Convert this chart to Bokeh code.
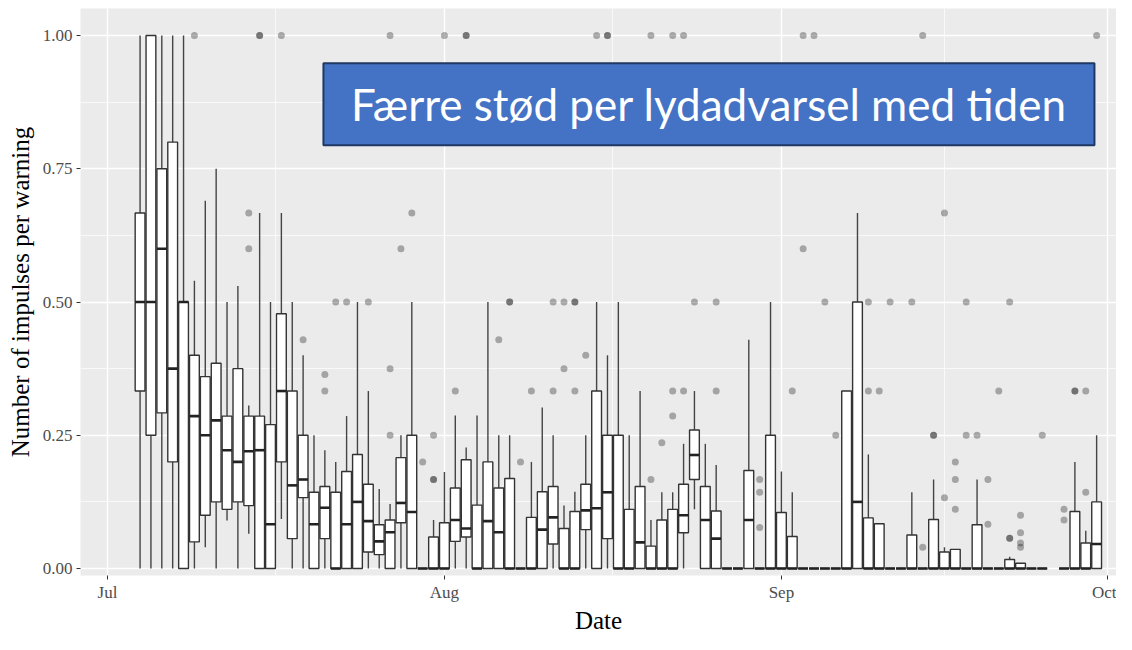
import pandas as pd
from bokeh.plotting import figure
from bokeh.models import (ColumnDataSource, FixedTicker, BoxAnnotation, Label, Range1d,
                          NumeralTickFormatter, DatetimeTickFormatter)
from bokeh.embed import file_html
from bokeh.resources import INLINE

YEAR = "2019"

box_days = [
    "07-04", "07-05", "07-06", "07-07", "07-08", "07-09", "07-10", "07-11", "07-12", "07-13",
    "07-14", "07-15", "07-16", "07-17", "07-18", "07-19", "07-20", "07-21", "07-22", "07-23",
    "07-24", "07-25", "07-26", "07-27", "07-28", "07-29", "07-30", "07-31",
    "08-01", "08-02", "08-03", "08-04", "08-05", "08-06", "08-07", "08-08", "08-09", "08-10",
    "08-11", "08-12", "08-13", "08-14", "08-15", "08-16", "08-17", "08-18", "08-19", "08-20",
    "08-21", "08-22", "08-23", "08-24", "08-25", "08-26", "08-27", "08-28", "08-29", "08-30",
    "08-31",
    "09-01", "09-02", "09-03", "09-04", "09-05", "09-06", "09-07", "09-08", "09-09", "09-10",
    "09-11", "09-12", "09-13", "09-14", "09-15", "09-16", "09-17", "09-18", "09-19", "09-20",
    "09-21", "09-22", "09-23", "09-24", "09-25", "09-27", "09-28", "09-29", "09-30",
]

lower = [
    0, 0, 0, 0, 0, 0, .04, 0, .09, 0,
    .065, 0, 0, .093, 0, 0, 0, 0, 0, 0,
    0, 0, 0, 0, 0, 0, 0, 0,
    0, 0, 0, 0, 0, 0, 0, 0, 0, 0,
    0, 0, 0, 0, 0, 0, 0, 0, 0, 0,
    0, 0, 0, .111, 0, 0, 0, 0, 0, 0,
    0,
    0, 0, 0, 0, 0, 0, 0, 0, 0, 0,
    0, 0, 0, 0, 0, 0, 0, 0, 0, 0,
    0, 0, 0, 0, 0, 0, 0, 0, 0,
]
q1 = [
    .333, .25, .292, .2, 0, .05, .1, .125, .111, .125,
    .118, 0, 0, .2, .056, .133, 0, .056, 0, 0,
    0, .031, .026, 0, .086, 0, 0, 0,
    0, .051, .059, 0, 0, 0, 0, 0, 0, 0,
    .046, 0, 0, .073, 0, .056, 0, 0, 0, 0,
    0, 0, .067, .167, 0, 0, 0, 0, 0, 0,
    0,
    0, 0, 0, 0, 0, 0, 0, 0, 0, 0,
    0, 0, 0, 0, 0, 0, 0, 0, 0, 0,
    0, 0, 0, 0, 0, 0, 0, 0, 0,
]
median = [
    .5, .5, .6, .375, .5, .286, .25, .278, .222, .2,
    .22, .222, .083, .333, .156, .167, .083, .114, 0, .083,
    .125, .089, .051, .068, .123, .106, 0, 0,
    0, .091, .075, 0, .089, .068, 0, 0, 0, .073,
    .096, 0, 0, .109, .113, .143, 0, 0, .049, 0,
    0, 0, .1, .213, .091, .056, 0, 0, .091, 0,
    0,
    0, 0, 0, 0, 0, 0, 0, .125, 0, 0,
    0, 0, 0, 0, 0, 0, 0, 0, 0, 0,
    0, 0, 0, 0, 0, 0, 0, 0, .046,
]
q3 = [
    .667, 1.0, .75, .8, .5, .4, .36, .385, .286, .375,
    .286, .286, .27, .478, .333, .25, .143, .154, .143, .182,
    .214, .158, .082, .091, .208, .25, 0, .059,
    .086, .151, .204, .119, .2, .151, .169, 0, .096, .144,
    .154, .075, .107, .158, .333, .25, .25, .111, .154, .042,
    .091, .111, .158, .26, .154, .108, 0, 0, .184, 0,
    .25,
    .105, .06, 0, 0, 0, 0, .333, .5, .095, .084,
    0, 0, .063, 0, .092, .031, .036, 0, .082, 0,
    0, .017, .01, 0, 0, 0, .107, .048, .125,
]
upper = [
    1.0, 1.0, 1.0, 1.0, 1.0, .54, .69, .75, .5, .53,
    .306, .667, .5, .667, .5, .4, .25, .222, .2, .286,
    .5, .333, .149, .121, .25, .5, 0, .091,
    .181, .287, .227, .287, .5, .25, .25, 0, .2, .302,
    .25, .118, .144, .25, .5, .4, .5, .25, .333, .091,
    .143, .143, .234, .333, .234, .194, 0, 0, .429, 0,
    .5,
    .182, .143, 0, 0, 0, 0, .333, .667, .214, .084,
    0, 0, .143, 0, .167, .04, .036, 0, .167, 0,
    0, .022, .01, 0, 0, 0, .2, .071, .25,
]

out_days = [
    "07-09", "07-14", "07-14", "07-15", "07-15", "07-17", "07-19", "07-21", "07-21", "07-22",
    "07-23", "07-25", "07-27", "07-27", "07-27", "07-28", "07-29", "07-30", "07-31", "07-31",
    "07-31", "08-01", "08-02", "08-03", "08-03", "08-06", "08-07", "08-07", "08-08", "08-09",
    "08-11", "08-11", "08-12", "08-12", "08-13", "08-13", "08-13", "08-14", "08-15", "08-16",
    "08-16", "08-20", "08-20", "08-21", "08-22", "08-22", "08-22", "08-23", "08-23", "08-24",
    "08-26", "08-26", "08-30", "08-30", "08-30", "09-02", "09-03", "09-03", "09-04", "09-05",
    "09-06", "09-09", "09-09", "09-10", "09-11", "09-13", "09-14", "09-14", "09-15", "09-15",
    "09-16", "09-16", "09-17", "09-17", "09-17", "09-18", "09-18", "09-19", "09-20", "09-20",
    "09-21", "09-22", "09-22", "09-22", "09-23", "09-23", "09-23", "09-23", "09-25", "09-27",
    "09-27", "09-28", "09-28", "09-29", "09-29", "09-30",
]
out_values = [
    1.0, .667, .6, 1.0, 1.0, 1.0, .429, .364, .333, .5,
    .5, .5, .375, .25, 1.0, .6, .667, .2, .25, .167,
    .167, 1.0, .333, 1.0, 1.0, .429, .5, .5, .2, .333,
    .5, .333, .5, .375, .5, .5, .333, .4, 1.0, 1.0,
    1.0, .167, 1.0, .236, .333, .286, 1.0, .333, 1.0, .5,
    .5, .333, .167, .143, .077, .333, .6, 1.0, 1.0, .5,
    .25, .5, .333, .333, .5, .5, .04, 1.0, .25, .25,
    .667, .133, .2, .167, .111, .5, .25, .25, .167, .083,
    .333, .5, .057, .057, .1, .067, .048, .04, .25, .111,
    .091, .333, .333, .333, .143, 1.0,
]

y_ticks = [0.0, 0.25, 0.5, 0.75, 1.0]
x_tick_days = ["07-01", "08-01", "09-01", "10-01"]
title_text = "Færre stød per lydadvarsel med tiden"

DAY = 86400000.0


def ms(md):
    return pd.Timestamp(f"{YEAR}-{md}").value / 1e6


bx = [ms(d) for d in box_days]
half = 0.45 * DAY
src = ColumnDataSource(dict(
    x=bx, x0=[v - half for v in bx], x1=[v + half for v in bx],
    lower=lower, q1=q1, med=median, q3=q3, upper=upper,
))
osrc = ColumnDataSource(dict(x=[ms(d) for d in out_days], y=out_values))

jul1 = ms("07-01")
FW, FH = 1036, 567
p = figure(frame_width=FW, frame_height=FH, output_backend="svg", toolbar_location=None,
           x_axis_type="datetime",
           x_range=Range1d(jul1 - 2.48 * DAY, jul1 + (-2.48 + FW / 10.87) * DAY),
           y_range=Range1d(-0.0131, 1.0507),
           min_border_left=80, min_border_right=0, min_border_top=8, min_border_bottom=0)
p.background_fill_color = "#EBEBEB"
p.border_fill_color = "white"
p.outline_line_color = None

major = [ms(d) for d in x_tick_days]
minor = [(major[i] + major[i + 1]) / 2 for i in range(len(major) - 1)]
p.xaxis.ticker = FixedTicker(ticks=major, minor_ticks=minor)
p.xaxis.formatter = DatetimeTickFormatter(days="%b", months="%b", years="%b", hours="%b")
p.yaxis.ticker = FixedTicker(ticks=y_ticks,
                             minor_ticks=[(y_ticks[i] + y_ticks[i + 1]) / 2 for i in range(len(y_ticks) - 1)])
p.yaxis.formatter = NumeralTickFormatter(format="0.00")

for g in (p.xgrid, p.ygrid):
    g.grid_line_color = "white"
    g.grid_line_width = 1.4
    g.minor_grid_line_color = "white"
    g.minor_grid_line_width = 0.7

for ax in (p.xaxis, p.yaxis):
    ax.axis_line_color = None
    ax.major_tick_line_color = "#333333"
    ax.major_tick_out = 4
    ax.major_tick_in = 0
    ax.minor_tick_line_color = None
    ax.major_label_text_font = "Liberation Serif"
    ax.major_label_text_font_size = "17px"
    ax.major_label_text_color = "#4d4d4d"
    ax.axis_label_text_font = "Liberation Serif"
    ax.axis_label_text_font_size = "25px"
    ax.axis_label_text_font_style = "normal"
    ax.axis_label_text_color = "black"

p.xaxis.major_label_standoff = 3
p.xaxis.axis_label_standoff = 2
p.yaxis.major_label_standoff = 4
p.yaxis.axis_label_standoff = 6
p.xaxis.axis_label = "Date"
p.yaxis.axis_label = "Number of impulses per warning"

# whiskers
p.segment(x0="x", y0="q3", x1="x", y1="upper", source=src, line_color="#444444", line_width=1.4)
p.segment(x0="x", y0="lower", x1="x", y1="q1", source=src, line_color="#444444", line_width=1.4)
# boxes
p.vbar(x="x", width=0.9 * DAY, bottom="q1", top="q3", source=src,
       fill_color="white", line_color="#333333", line_width=1.4)
# medians
p.segment(x0="x0", y0="med", x1="x1", y1="med", source=src, line_color="#222222", line_width=2.6)
# outliers
p.scatter(x="x", y="y", source=osrc, size=7, fill_color="black", fill_alpha=0.3, line_color=None)

# overlay text box
bl, br = jul1 + 19.87 * DAY, jul1 + 90.8 * DAY
bb, bt = 0.794, 0.948
p.add_layout(BoxAnnotation(left=bl, right=br, bottom=bb, top=bt, fill_color="#4472C4", fill_alpha=1.0,
                           line_color="#1F3864", line_width=2, line_alpha=1.0))
p.add_layout(Label(x=(bl + br) / 2, y=(bb + bt) / 2, text=title_text, text_align="center",
                   text_baseline="middle", text_color="white", text_font="Lato",
                   text_font_size="44px"))

open("out.html", "w").write(file_html(p, INLINE))
